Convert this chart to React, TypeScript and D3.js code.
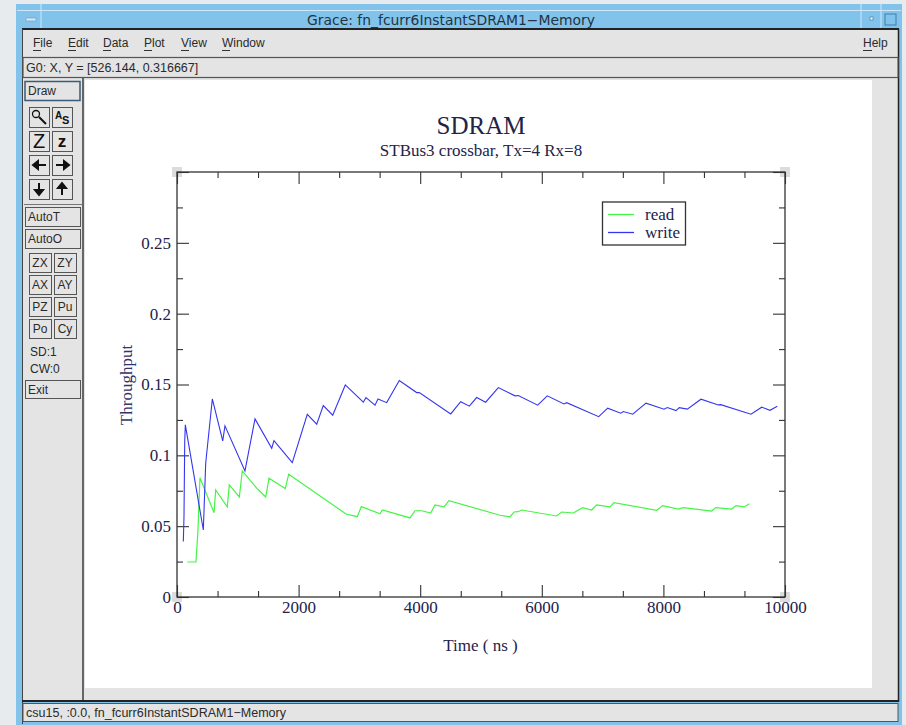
import React, { useEffect, useRef } from "react";
import * as d3 from "d3";

const readX = [169, 312, 345, 357, 378, 609, 636, 827, 860, 1025, 1074, 1311, 1459, 1513, 1781, 1837, 2780, 2965, 3031, 3339, 3377, 3832, 3914, 4025, 4173, 4243, 4391, 4474, 5312, 5477, 5543, 5608, 5669, 6245, 6327, 6518, 6672, 6820, 6903, 7122, 7187, 7890, 7988, 8245, 8327, 8794, 8860, 9123, 9194, 9330, 9413];
const readY = [0.0247, 0.0247, 0.0473, 0.0614, 0.0842, 0.0595, 0.0756, 0.0636, 0.0791, 0.0706, 0.089, 0.0768, 0.0706, 0.0838, 0.0765, 0.0867, 0.0586, 0.0567, 0.0638, 0.0588, 0.0614, 0.0558, 0.0609, 0.0609, 0.0593, 0.065, 0.0636, 0.068, 0.0577, 0.0565, 0.06, 0.0602, 0.0614, 0.0572, 0.06, 0.0593, 0.0631, 0.0614, 0.065, 0.0636, 0.0666, 0.0612, 0.0645, 0.0621, 0.0631, 0.0607, 0.0631, 0.0621, 0.0645, 0.0636, 0.0659];

const writeX = [104, 115, 127, 137, 433, 472, 581, 752, 789, 1118, 1283, 1558, 1595, 1896, 2143, 2298, 2406, 2561, 2768, 3064, 3108, 3257, 3306, 3449, 3656, 3942, 3985, 4502, 4666, 4808, 4929, 5077, 5285, 5559, 5613, 5932, 6090, 6365, 6409, 6936, 7084, 7298, 7341, 7495, 7714, 8010, 8064, 8207, 8261, 8393, 8618, 8903, 8942, 9441, 9617, 9753, 9873];
const writeY = [0.0391, 0.0567, 0.1097, 0.1215, 0.0473, 0.0944, 0.1398, 0.1102, 0.1208, 0.089, 0.1257, 0.105, 0.1104, 0.0948, 0.129, 0.122, 0.1351, 0.1283, 0.1497, 0.1375, 0.1407, 0.1354, 0.1398, 0.1372, 0.1528, 0.1443, 0.1443, 0.1292, 0.1379, 0.1347, 0.1408, 0.1375, 0.1478, 0.142, 0.1422, 0.1354, 0.142, 0.1363, 0.1372, 0.1273, 0.1333, 0.1297, 0.1309, 0.129, 0.1368, 0.1326, 0.1337, 0.1316, 0.1337, 0.1326, 0.1396, 0.1356, 0.1358, 0.129, 0.134, 0.1318, 0.1347];

const xMajor = [0, 2000, 4000, 6000, 8000, 10000];
const yMajor = [0, 0.05, 0.1, 0.15, 0.2, 0.25, 0.3];
const yLabelled = [0, 0.05, 0.1, 0.15, 0.2, 0.25];

const menuItems: [string, number][] = [["File", 33], ["Edit", 68], ["Data", 103], ["Plot", 144], ["View", 181], ["Window", 222]];
const textButtons = ["ZX", "ZY", "AX", "AY", "PZ", "Pu", "Po", "Cy"];

const plot = { left: 177, right: 785, top: 172, bottom: 597 };
const INK = "#23234a";
const SERIF = "'Liberation Serif', serif";
const SANS = "'Liberation Sans', sans-serif";
const PANEL = "#e4e4e4";
const UI_TEXT = "#2a2a2a";

function Raised({ x, y, w, h, label, left }: { x: number; y: number; w: number; h: number; label?: string; left?: boolean }) {
    return (
        <g>
            <rect x={x + 0.5} y={y + 0.5} width={w} height={h} fill={PANEL} stroke="#555" strokeWidth={1} />
            {label && (
                <text x={left ? x + 3 : x + w / 2} y={y + h / 2 + 4.5} textAnchor={left ? "start" : "middle"} fontSize={12} fill={UI_TEXT} fontFamily={SANS}>
                    {label}
                </text>
            )}
        </g>
    );
}

export default function App() {
    const axisRef = useRef<SVGGElement>(null);

    const xScale = d3.scaleLinear().domain([0, 10000]).range([plot.left, plot.right]);
    const yScale = d3.scaleLinear().domain([0, 0.3]).range([plot.bottom, plot.top]);

    const xMinor = d3.range(0, 10000, 2000 / 3).map((d) => Math.round(d)).filter((d) => d % 2000 > 1 && d % 2000 < 1999);
    const yMinor = d3.range(0.025, 0.3, 0.05);

    const line = d3
        .line<[number, number]>()
        .x((d) => xScale(d[0]))
        .y((d) => yScale(d[1]));

    const readPts = readX.map((x, i) => [x, readY[i]] as [number, number]);
    const writePts = writeX.map((x, i) => [x, writeY[i]] as [number, number]);

    useEffect(() => {
        const g = d3.select(axisRef.current);
        g.selectAll("*").remove();

        const drawTicks = (axis: d3.Axis<d3.NumberValue>, at: string) => {
            const t = g.append("g").attr("transform", at).call(axis as any);
            t.select(".domain").remove();
            t.selectAll("line").attr("stroke", "#333").attr("stroke-width", 1.1);
            t.selectAll("text").attr("fill", INK).attr("font-size", 17).attr("font-family", SERIF);
            return t;
        };
        const noLabel = () => "";

        // bottom and left carry the labels, top and right are only ticks
        drawTicks(d3.axisTop(xScale).tickValues(xMajor).tickSize(12).tickFormat(noLabel), `translate(0,${plot.bottom})`);
        drawTicks(d3.axisTop(xScale).tickValues(xMinor).tickSize(6).tickFormat(noLabel), `translate(0,${plot.bottom})`);
        drawTicks(d3.axisBottom(xScale).tickValues(xMajor).tickSize(12).tickFormat(noLabel), `translate(0,${plot.top})`);
        drawTicks(d3.axisBottom(xScale).tickValues(xMinor).tickSize(6).tickFormat(noLabel), `translate(0,${plot.top})`);
        drawTicks(d3.axisRight(yScale).tickValues(yMajor).tickSize(12).tickFormat(noLabel), `translate(${plot.left},0)`);
        drawTicks(d3.axisRight(yScale).tickValues(yMinor).tickSize(6).tickFormat(noLabel), `translate(${plot.left},0)`);
        drawTicks(d3.axisLeft(yScale).tickValues(yMajor).tickSize(12).tickFormat(noLabel), `translate(${plot.right},0)`);
        drawTicks(d3.axisLeft(yScale).tickValues(yMinor).tickSize(6).tickFormat(noLabel), `translate(${plot.right},0)`);

        const xl = drawTicks(
            d3.axisBottom(xScale).tickValues(xMajor).tickSize(0).tickPadding(4).tickFormat((d) => String(d)),
            `translate(0,${plot.bottom})`
        );
        xl.selectAll("line").remove();
        const yl = drawTicks(
            d3.axisLeft(yScale).tickValues(yLabelled).tickSize(0).tickPadding(6).tickFormat((d) => String(d)),
            `translate(${plot.left},0)`
        );
        yl.selectAll("line").remove();
    }, []);

    const handles: [number, number][] = [
        [plot.left, plot.top],
        [plot.right, plot.top],
        [plot.left, plot.bottom],
        [plot.right, plot.bottom],
    ];

    return (
        <svg width={906} height={725} style={{ position: "absolute", left: 0, top: 0 }}>
            {/* window frame */}
            <rect width={906} height={725} fill="#e8ebee" />
            <rect x={16} y={4} width={886} height={721} fill="#82c3ec" />
            <line x1={17} x2={901} y1={10.5} y2={10.5} stroke="#cfe8f8" />
            <line x1={41} x2={41} y1={4} y2={28} stroke="#cfe8f8" />
            <line x1={861} x2={861} y1={4} y2={28} stroke="#cfe8f8" />
            <line x1={881} x2={881} y1={4} y2={28} stroke="#cfe8f8" />
            <rect x={26} y={18} width={10} height={3} fill="#cfe8f8" stroke="#5c8fb0" strokeWidth={0.5} />
            <rect x={870} y={17} width={3} height={3} fill="#dff" stroke="#456" strokeWidth={0.5} />
            <rect x={885} y={14} width={11} height={11} fill="none" stroke="#3f7ea6" />
            <text x={307} y={25} textLength={288} lengthAdjust="spacingAndGlyphs" fontSize={14} fontFamily="'DejaVu Sans', sans-serif" fill="#24343f">
                Grace: fn_fcurr6InstantSDRAM1−Memory
            </text>

            {/* menu bar and locator */}
            <rect x={22} y={28} width={877} height={674} fill={PANEL} />
            <line x1={22} x2={899} y1={29} y2={29} stroke="#222" strokeWidth={2} />
            <line x1={22.5} x2={22.5} y1={29} y2={724} stroke="#444" />
            <line x1={898.5} x2={898.5} y1={29} y2={702} stroke="#222" strokeWidth={1.5} />
            {menuItems.map(([label, x]) => (
                <g key={label}>
                    <text x={x} y={47} fontSize={12} fontFamily={SANS} fill={UI_TEXT}>
                        {label}
                    </text>
                    <line x1={x} x2={x + 8} y1={50.5} y2={50.5} stroke="#333" />
                </g>
            ))}
            <text x={863} y={47} fontSize={12} fontFamily={SANS} fill={UI_TEXT}>
                Help
            </text>
            <line x1={863} x2={872} y1={50.5} y2={50.5} stroke="#333" />
            <rect x={23} y={57.5} width={875} height={20} fill={PANEL} stroke="#555" strokeWidth={1.2} />
            <text x={26} y={72} fontSize={12.5} fontFamily={SANS} fill={UI_TEXT}>
                G0: X, Y = [526.144, 0.316667]
            </text>

            {/* tool panel */}
            <line x1={83} x2={83} y1={78} y2={702} stroke="#666" strokeWidth={2} />
            <rect x={25} y={81.5} width={55} height={19} fill={PANEL} stroke="#3a5a78" strokeWidth={1.5} />
            <text x={28} y={95} fontSize={12} fontFamily={SANS} fill={UI_TEXT}>
                Draw
            </text>
            <Raised x={29} y={107} w={20} h={20} />
            <Raised x={52} y={107} w={20} h={20} />
            <Raised x={29} y={131} w={20} h={20} />
            <Raised x={52} y={131} w={20} h={20} />
            <Raised x={29} y={155} w={20} h={20} />
            <Raised x={52} y={155} w={20} h={20} />
            <Raised x={29} y={179} w={20} h={20} />
            <Raised x={52} y={179} w={20} h={20} />
            <circle cx={36} cy={114} r={3.5} fill="none" stroke="#111" strokeWidth={1.3} />
            <line x1={39} x2={46} y1={117} y2={124} stroke="#111" strokeWidth={2} />
            <text x={55} y={119} fontSize={10} fontWeight="bold" fontFamily={SANS} fill="#111">
                A
            </text>
            <text x={62} y={124} fontSize={11} fontWeight="bold" fontFamily={SANS} fill="#111">
                S
            </text>
            <text x={39} y={148} textAnchor="middle" fontSize={20} fontFamily={SANS} fill="#111">
                Z
            </text>
            <text x={62} y={147} textAnchor="middle" fontSize={17} fontWeight="bold" fontFamily={SANS} fill="#111">
                z
            </text>
            <path d="M33 165 h13 M33 165 l5 -4 v8 z" stroke="#111" strokeWidth={2} fill="#111" />
            <path d="M69 165 h-13 M69 165 l-5 -4 v8 z" stroke="#111" strokeWidth={2} fill="#111" />
            <path d="M39 195 v-12 M39 195 l-4 -5 h8 z" stroke="#111" strokeWidth={2} fill="#111" />
            <path d="M62 183 v12 M62 183 l-4 5 h8 z" stroke="#111" strokeWidth={2} fill="#111" />
            <line x1={24} x2={82} y1={204.5} y2={204.5} stroke="#777" />
            <Raised x={25} y={207} w={55} h={19} label="AutoT" left />
            <Raised x={25} y={229} w={55} h={19} label="AutoO" left />
            {textButtons.map((label, i) => (
                <Raised key={label} x={29 + (i % 2) * 25} y={253 + Math.floor(i / 2) * 22} w={22} h={19} label={label} />
            ))}
            <text x={30} y={356} fontSize={12} fontFamily={SANS} fill={UI_TEXT}>
                SD:1
            </text>
            <text x={30} y={373} fontSize={12} fontFamily={SANS} fill={UI_TEXT}>
                CW:0
            </text>
            <rect x={25.5} y={380.5} width={55} height={18} fill={PANEL} stroke="#555" />
            <text x={28} y={394} fontSize={12} fontFamily={SANS} fill={UI_TEXT}>
                Exit
            </text>

            {/* canvas */}
            <rect x={85} y={80} width={787} height={608} fill="#fff" />

            {/* status bar */}
            <line x1={22} x2={899} y1={701} y2={701} stroke="#222" strokeWidth={2} />
            <rect x={23} y={703.5} width={875} height={18} fill={PANEL} stroke="#555" />
            <text x={26} y={717} textLength={260} lengthAdjust="spacingAndGlyphs" fontSize={12.5} fontFamily={SANS} fill={UI_TEXT}>
                csu15, :0.0, fn_fcurr6InstantSDRAM1−Memory
            </text>

            {/* corner handles */}
            {handles.map(([x, y]) => (
                <rect key={`${x}-${y}`} x={x - 5} y={y - 5} width={10} height={10} fill="#dcdcdc" />
            ))}

            {/* graph */}
            <text x={481} y={134} textAnchor="middle" fontSize={25} fontFamily={SERIF} fill={INK}>
                SDRAM
            </text>
            <text x={481} y={156} textAnchor="middle" fontSize={17} fontFamily={SERIF} fill={INK}>
                STBus3 crossbar, Tx=4 Rx=8
            </text>
            <rect x={plot.left} y={plot.top} width={plot.right - plot.left} height={plot.bottom - plot.top} fill="none" stroke="#222" strokeWidth={1.2} />
            <g ref={axisRef} />
            <path d={line(readPts) ?? ""} fill="none" stroke="#45f545" strokeWidth={1.2} />
            <path d={line(writePts) ?? ""} fill="none" stroke="#3535f0" strokeWidth={1.1} />
            <text x={480.5} y={651} textAnchor="middle" fontSize={17} fontFamily={SERIF} fill={INK}>
                Time ( ns )
            </text>
            <text transform="translate(132,385) rotate(-90)" textAnchor="middle" fontSize={17} fontFamily={SERIF} fill="#33336a">
                Throughput
            </text>

            {/* legend */}
            <rect x={602.5} y={202} width={83} height={43} fill="#fff" stroke="#333" strokeWidth={1.3} />
            <line x1={608} x2={634} y1={214.5} y2={214.5} stroke="#45f545" strokeWidth={1.3} />
            <line x1={608} x2={634} y1={232.5} y2={232.5} stroke="#3535f0" strokeWidth={1.3} />
            <text x={645} y={220} fontSize={17} fontFamily={SERIF} fill={INK}>
                read
            </text>
            <text x={645} y={238} fontSize={17} fontFamily={SERIF} fill={INK}>
                write
            </text>
        </svg>
    );
}
